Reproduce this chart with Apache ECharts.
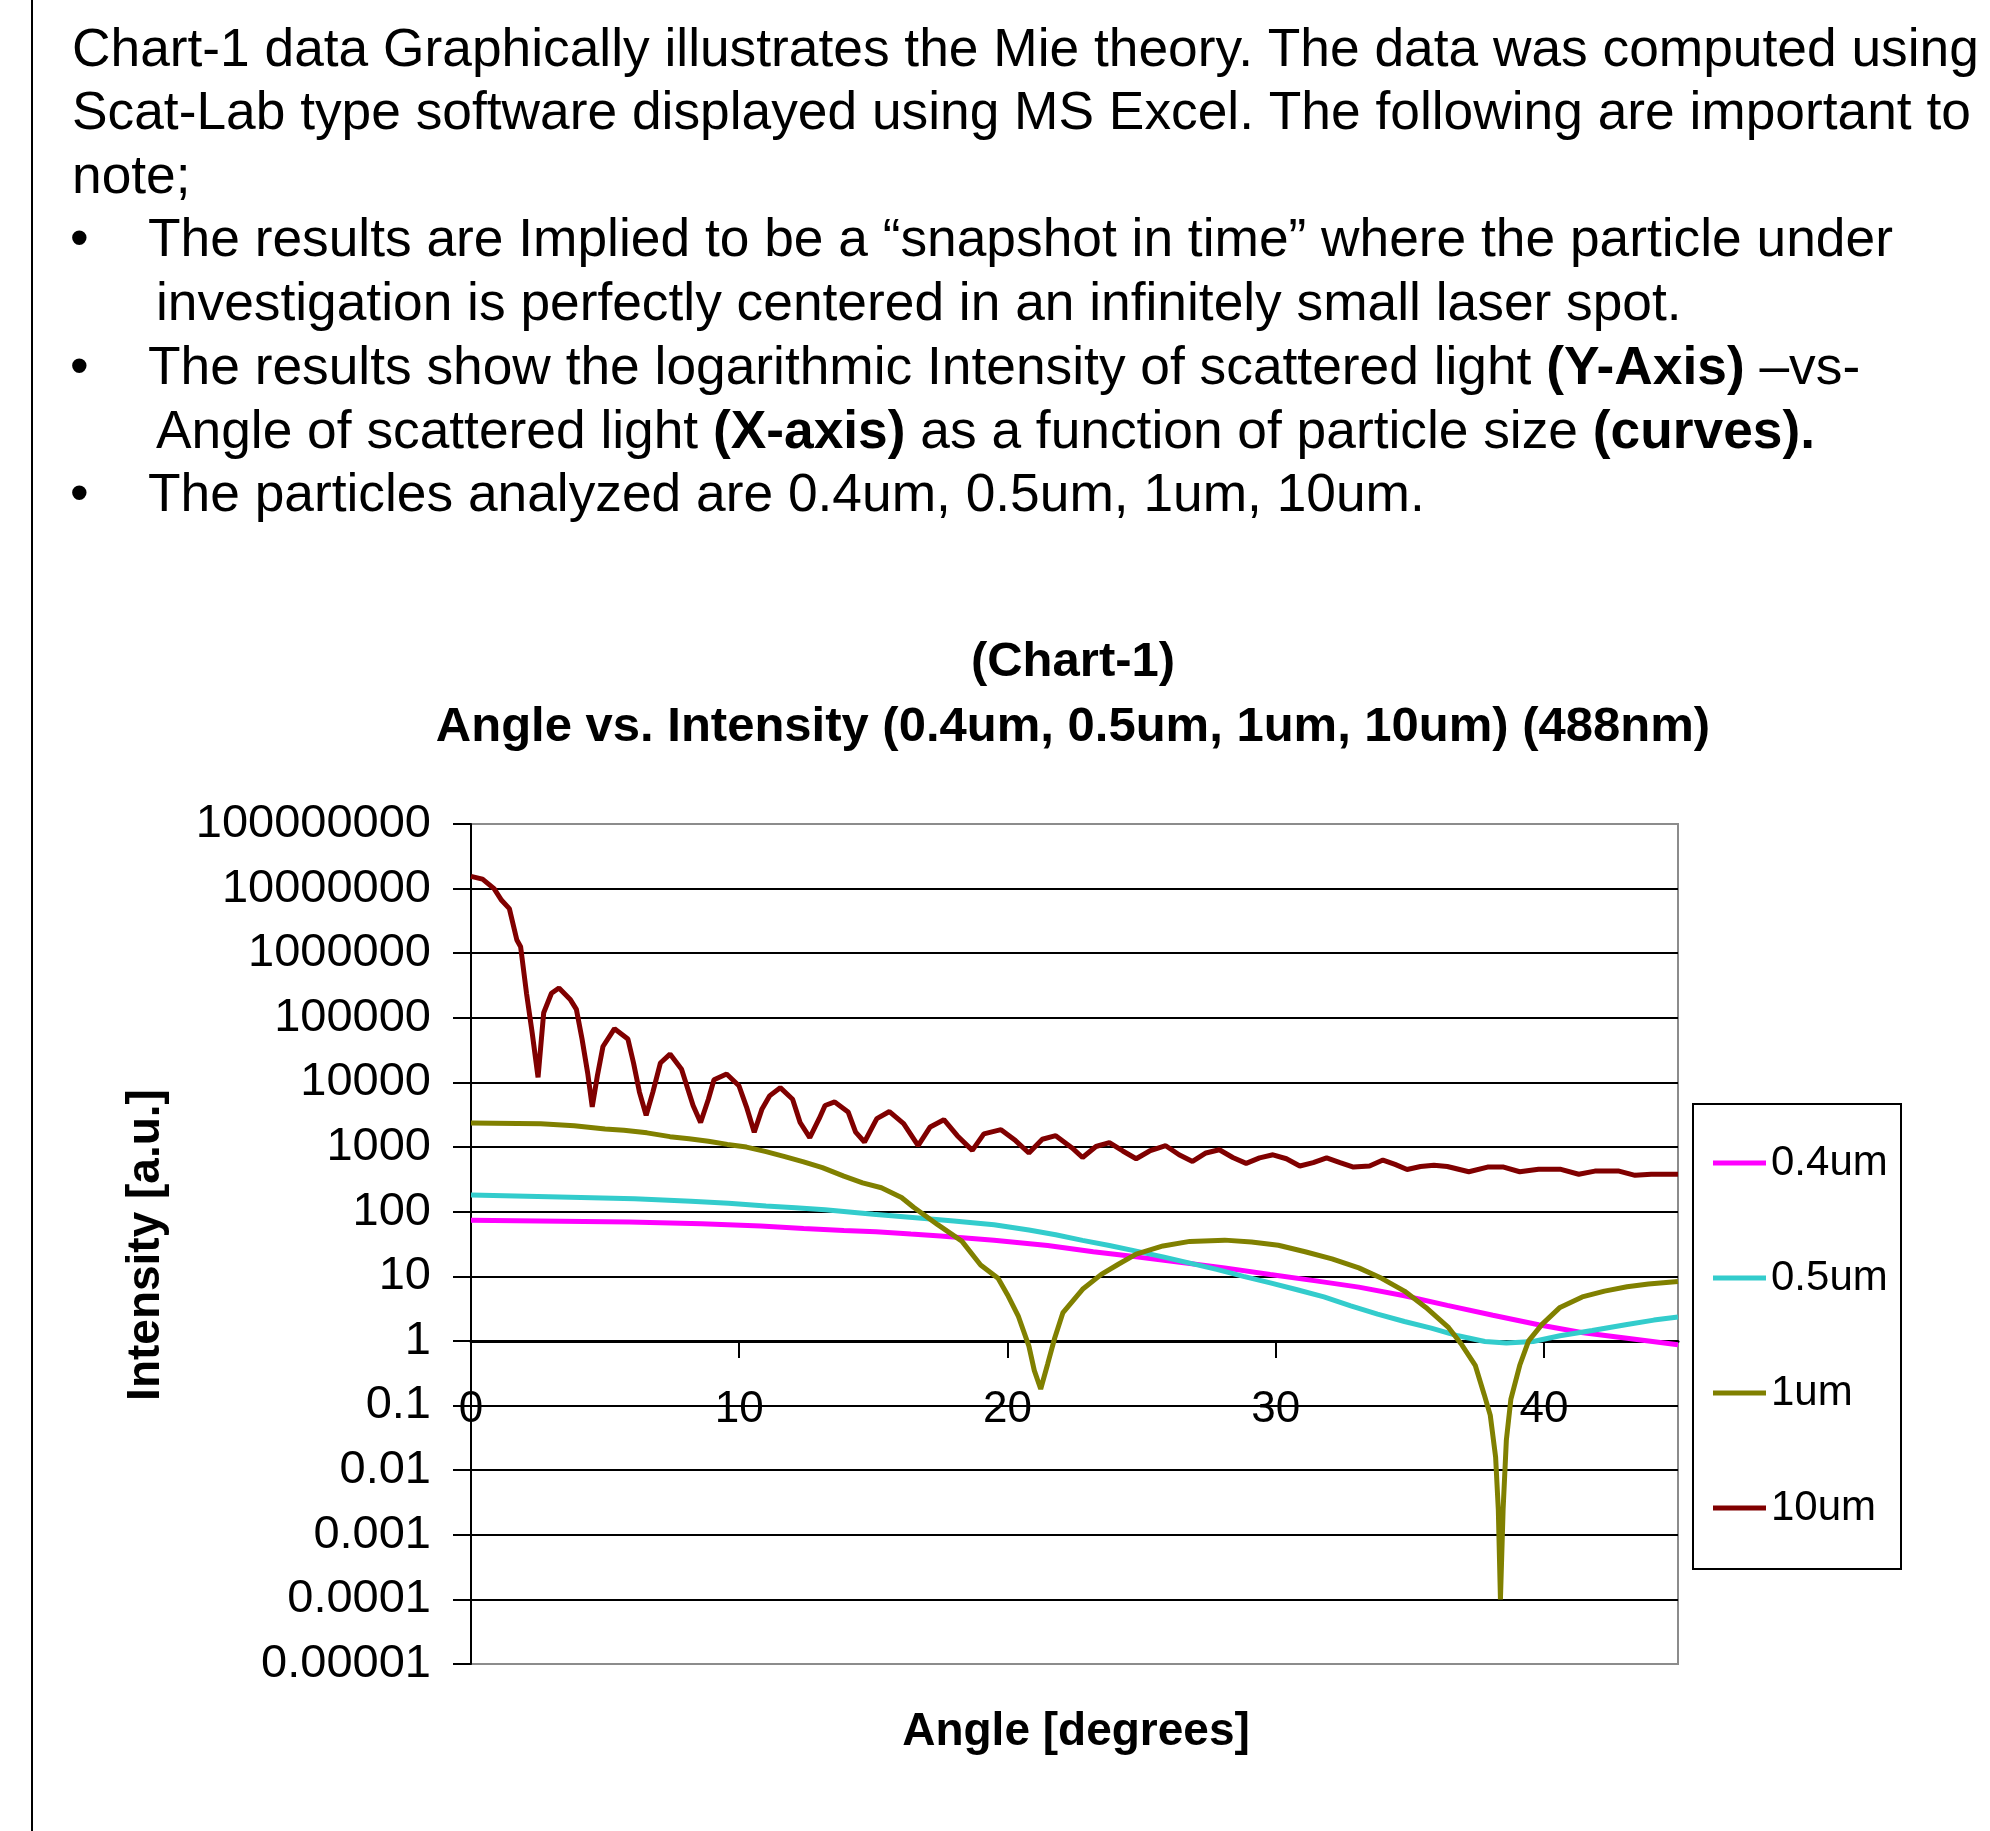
<!DOCTYPE html>
<html>
<head>
<meta charset="utf-8">
<title>Chart-1 Angle vs. Intensity</title>
<script src="https://cdn.jsdelivr.net/npm/echarts@6/dist/echarts.min.js"></script>
<style>
  html, body { margin: 0; padding: 0; background: #fff; }
  #chartsL { width: 1990px; height: 1831px; }
</style>
</head>
<body>
<div id="chartsL"></div>
<script>
// angle [degrees] and intensity [a.u.]
var angle04 = [0, 5.9, 8.6, 10.8, 12.4, 13.9, 15.1, 16.4, 17.5, 19.5, 21.5, 23.2, 24.8, 26.5, 28.1, 29.8, 31.5, 33.1, 34.8, 36.4, 38.1, 39.8, 41.4, 43.1, 45];
var int04 = [74, 69, 65, 60, 55, 51, 49, 45, 42, 36, 30, 24, 20, 16.4, 13.5, 10.7, 8.5, 6.8, 5.0, 3.55, 2.5, 1.78, 1.35, 1.1, 0.87];

var angle05 = [0, 2.9, 6.1, 8.2, 9.6, 11, 12.1, 13.2, 14, 15, 15.9, 16.8, 18, 19.5, 20.8, 21.8, 22.8, 23.8, 24.8, 25.8, 26.8, 27.8, 28.8, 29.8, 30.8, 31.8, 32.8, 33.8, 34.8, 35.8, 36.8, 37.8, 38.6, 39.6, 40.6, 41.8, 43.1, 44.1, 45];
var int05 = [182, 170, 158, 145, 135, 123, 115, 107, 100, 91, 85, 79, 72, 63, 52, 44, 36, 30, 24.5, 20, 16, 12.8, 10, 7.9, 6.2, 4.8, 3.5, 2.6, 2.0, 1.58, 1.2, 0.98, 0.93, 0.98, 1.2, 1.45, 1.8, 2.1, 2.35];

var angle1 = [0, 2.6, 3.85, 5, 5.7, 6.56, 7.42, 8.13, 8.85, 9.56, 10.27, 11, 11.7, 12.4, 13.1, 13.9, 14.6, 15.3, 16.05, 16.5, 17.4, 18.3, 19, 19.65, 20, 20.4, 20.8, 21, 21.24, 21.5, 21.76, 22.07, 22.8, 23.5, 24.15, 24.8, 25.8, 26.8, 28.1, 29.1, 30.1, 31.1, 32.1, 33.1, 33.95, 34.8, 35.6, 36.45, 36.94, 37.44, 37.77, 38, 38.2, 38.3, 38.38, 38.48, 38.6, 38.77, 39.1, 39.43, 39.93, 40.6, 41.43, 42.26, 43.1, 43.9, 45];
var int1 = [2350, 2300, 2140, 1900, 1820, 1660, 1450, 1350, 1230, 1100, 1000, 850, 710, 590, 480, 355, 280, 235, 166, 117, 63, 35, 15, 9.3, 5.2, 2.45, 0.83, 0.35, 0.18, 0.44, 1.1, 2.75, 6.3, 10.7, 15.5, 22, 29.5, 34.7, 36.3, 33.9, 30.2, 24, 18.6, 13.5, 9.3, 5.9, 3.3, 1.6, 0.87, 0.42, 0.15, 0.071, 0.016, 0.0025, 0.0001, 0.0025, 0.029, 0.126, 0.42, 1.0, 1.8, 3.3, 4.8, 5.9, 6.9, 7.6, 8.3];

var angle10 = [0, 0.43, 0.86, 1.14, 1.43, 1.71, 1.85, 2.07, 2.28, 2.5, 2.71, 3.0, 3.28, 3.71, 3.93, 4.14, 4.35, 4.52, 4.71, 4.92, 5.35, 5.85, 6.06, 6.28, 6.53, 6.78, 7.06, 7.42, 7.85, 8.28, 8.56, 8.85, 9.06, 9.53, 9.99, 10.27, 10.56, 10.85, 11.13, 11.53, 11.99, 12.27, 12.63, 12.98, 13.2, 13.56, 14.06, 14.34, 14.67, 15.13, 15.6, 16.13, 16.67, 17.12, 17.63, 18.13, 18.69, 19.12, 19.76, 20.3, 20.8, 21.3, 21.8, 22.4, 22.8, 23.3, 23.8, 24.3, 24.8, 25.3, 25.9, 26.4, 26.9, 27.4, 27.9, 28.4, 28.9, 29.4, 29.9, 30.4, 30.9, 31.4, 31.9, 32.4, 32.9, 33.5, 34.0, 34.45, 34.9, 35.4, 35.9, 36.4, 37.2, 37.9, 38.5, 39.1, 39.8, 40.6, 41.3, 41.9, 42.8, 43.4, 44.0, 45];
var int10 = [1.55e7, 1.4e7, 1.0e7, 6.6e6, 4.9e6, 1.6e6, 1.26e6, 2.4e5, 5.9e4, 1.2e4, 1.2e5, 2.4e5, 2.9e5, 1.9e5, 1.35e5, 4.7e4, 1.4e4, 4200, 1.26e4, 3.6e4, 6.8e4, 4.7e4, 2.0e4, 7100, 3100, 7100, 2.0e4, 2.75e4, 1.6e4, 4400, 2400, 5500, 1.1e4, 1.35e4, 8900, 4200, 1700, 3900, 6200, 8300, 5500, 2400, 1400, 2750, 4400, 5000, 3500, 1700, 1200, 2750, 3550, 2300, 1050, 2050, 2650, 1500, 890, 1600, 1860, 1260, 810, 1320, 1500, 980, 690, 1020, 1170, 870, 660, 870, 1050, 760, 600, 810, 910, 690, 560, 680, 760, 660, 510, 575, 680, 575, 490, 510, 630, 540, 450, 500, 525, 500, 415, 490, 490, 415, 455, 455, 380, 425, 425, 365, 380, 380];

var seriesNames = ["0.4um", "0.5um", "1um", "10um"];
var angles = [angle04, angle05, angle1, angle10];
var intensities = [int04, int05, int1, int10];
var xTickValues = [0, 10, 20, 30, 40];
var color = ["#ff00ff", "#33cccc", "#808000", "#800000"];

var FONT = '"Liberation Sans", Arial, sans-serif';

// plot area in page pixels
var gridLeft = 471, gridTop = 824, gridW = 1207, gridH = 840;
var yMin = 1e-5, yMax = 1e8;
var decades = Math.log10(yMax) - Math.log10(yMin);
var xAxisOffset = -(Math.log10(1) - Math.log10(yMin)) * gridH / decades; // x axis crosses at 1

var myChart = echarts.init(document.getElementById("chartsL"));

var seriesOption = [];
for (var i = 0; i < seriesNames.length; i++) {
  var pts = [];
  for (var j = 0; j < angles[i].length; j++) {
    pts.push([angles[i][j], intensities[i][j]]);
  }
  seriesOption.push({
    name: seriesNames[i],
    type: "line",
    data: pts,
    showSymbol: false,
    symbol: "none",
    lineStyle: { width: 5, color: color[i] },
    itemStyle: { color: color[i] },
  });
}

function paraText(x, y, text) {
  return {
    type: "text",
    x: x,
    y: y,
    style: {
      text: text,
      fill: "#000",
      font: "53.3px " + FONT,
      verticalAlign: "middle",
      rich: {
        b: { fontSize: 53.3, fontFamily: FONT, fontWeight: "bold", fill: "#000" },
      },
    },
  };
}

var graphics = [
  // page frame line on the left
  { type: "line", shape: { x1: 32, y1: 0, x2: 32, y2: 1831 }, style: { stroke: "#000", lineWidth: 2 } },
  paraText(72, 51, "Chart-1 data Graphically illustrates the Mie theory. The data was computed using"),
  paraText(72, 114, "Scat-Lab type software displayed using MS Excel. The following are important to"),
  paraText(72, 178, "note;"),
  paraText(70, 241, "•"),
  paraText(148, 241, "The results are Implied to be a “snapshot in time” where the particle under"),
  paraText(156, 305, "investigation is perfectly centered in an infinitely small laser spot."),
  paraText(70, 369, "•"),
  paraText(148, 369, "The results show the logarithmic Intensity of scattered light {b|(Y-Axis)} –vs-"),
  paraText(156, 433, "Angle of scattered light {b|(X-axis)} as a function of particle size {b|(curves).}"),
  paraText(70, 496, "•"),
  paraText(148, 496, "The particles analyzed are 0.4um, 0.5um, 1um, 10um."),
  // chart title
  {
    type: "text", x: 1073, y: 662,
    style: { text: "(Chart-1)", font: "bold 49px " + FONT, fill: "#000", align: "center", verticalAlign: "middle" },
  },
  {
    type: "text", x: 1073, y: 727,
    style: { text: "Angle vs. Intensity (0.4um, 0.5um, 1um, 10um) (488nm)", font: "bold 49px " + FONT, fill: "#000", align: "center", verticalAlign: "middle" },
  },
  // axis titles
  {
    type: "text", x: 146, y: 1245, rotation: Math.PI / 2,
    style: { text: "Intensity [a.u.]", font: "bold 46px " + FONT, fill: "#000", align: "center", verticalAlign: "middle" },
  },
  {
    type: "text", x: 1076, y: 1732,
    style: { text: "Angle [degrees]", font: "bold 46px " + FONT, fill: "#000", align: "center", verticalAlign: "middle" },
  },
  // legend frame
  {
    type: "rect", shape: { x: 1693, y: 1104, width: 208, height: 465 },
    style: { fill: "transparent", stroke: "#000", lineWidth: 2 },
  },
];

var option = {
  animation: false,
  backgroundColor: "#fff",
  color: color,
  grid: {
    left: gridLeft,
    top: gridTop,
    width: gridW,
    height: gridH,
    show: true,
    borderColor: "#8c8c8c",
    borderWidth: 2,
  },
  xAxis: {
    type: "value",
    min: 0,
    max: 45,
    interval: 10,
    position: "bottom",
    offset: xAxisOffset,
    axisLine: { onZero: false, lineStyle: { color: "#000", width: 3 } },
    axisTick: { show: true, length: 17, customValues: xTickValues, lineStyle: { color: "#000", width: 2 } },
    axisLabel: { margin: 47, fontSize: 44, fontFamily: FONT, color: "#000", customValues: xTickValues },
    splitLine: { show: false },
  },
  yAxis: {
    type: "log",
    logBase: 10,
    min: yMin,
    max: yMax,
    interval: 1,
    axisLine: { show: true, lineStyle: { color: "#000", width: 2 } },
    axisTick: { show: true, length: 18, lineStyle: { color: "#000", width: 2 } },
    axisLabel: {
      margin: 40,
      fontSize: 47,
      fontFamily: FONT,
      color: "#000",
      formatter: function (v) {
        var e = Math.round(Math.log10(v));
        return e >= 0 ? String(Math.pow(10, e)) : Math.pow(10, e).toFixed(-e);
      },
    },
    splitLine: { show: true, showMinLine: false, showMaxLine: false, lineStyle: { color: "#000", width: 2 } },
  },
  legend: {
    data: seriesNames,
    orient: "vertical",
    left: 1713,
    top: 1138,
    padding: 0,
    itemWidth: 53,
    itemHeight: 5,
    itemGap: 65,
    icon: "rect",
    selectedMode: false,
    textStyle: { fontSize: 42, lineHeight: 50, fontFamily: FONT, color: "#000" },
  },
  tooltip: { show: false },
  graphic: { elements: graphics },
  series: seriesOption,
};

myChart.setOption(option);
</script>
</body>
</html>
